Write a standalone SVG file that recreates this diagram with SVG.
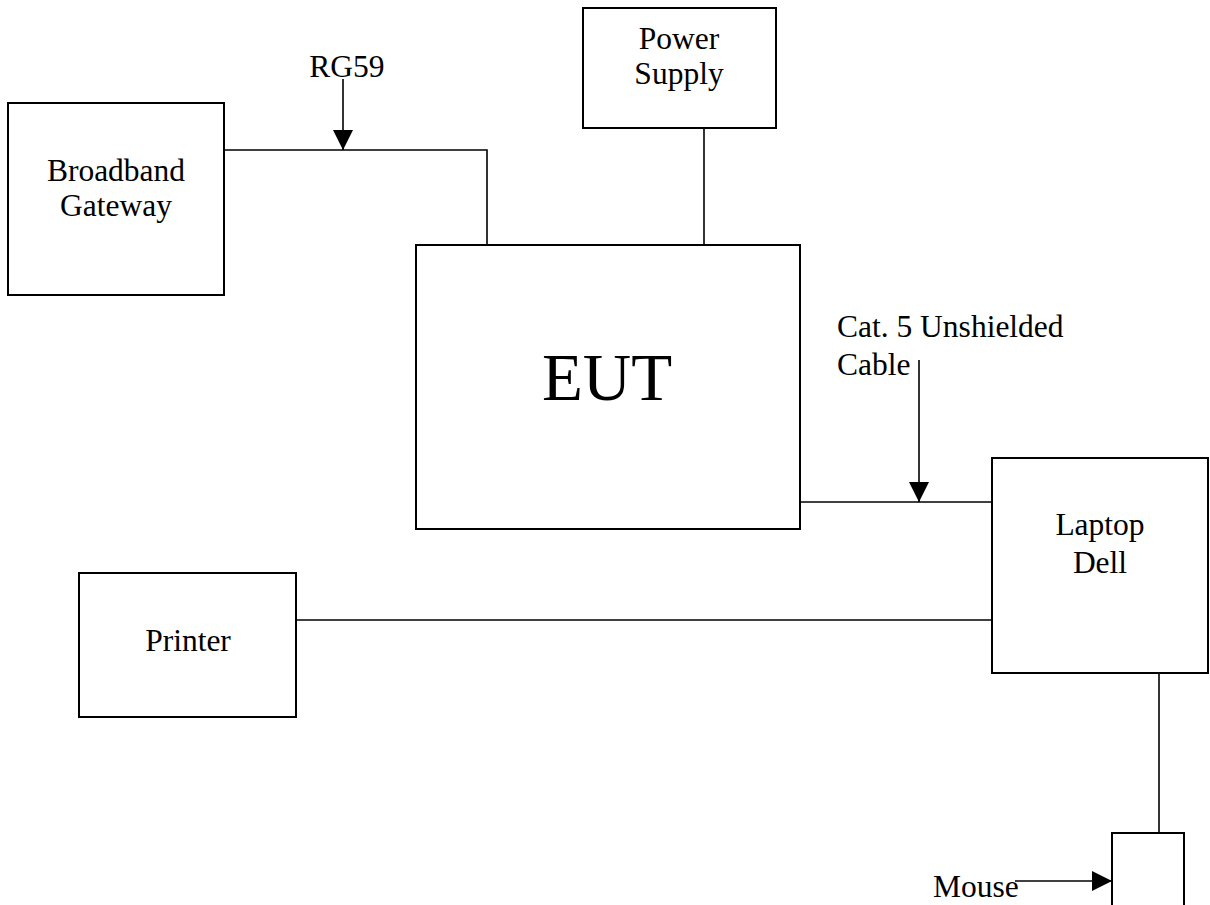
<svg xmlns="http://www.w3.org/2000/svg" width="1210" height="905" viewBox="0 0 1210 905">
<style>
  .box { fill: #ffffff; stroke: #000000; stroke-width: 2; }
  .wire { fill: none; stroke: #000000; stroke-width: 1.6; }
  .lbl { font-family: "Liberation Serif", "Times New Roman", serif; font-size: 31.5px; fill: #000000; }
  .mid { text-anchor: middle; }
  .big { font-family: "Liberation Serif", "Times New Roman", serif; font-size: 67px; fill: #000000; text-anchor: middle; }
</style>
<defs>
  <marker id="arr" viewBox="0 0 10 10" refX="10" refY="5" markerWidth="20" markerHeight="20" markerUnits="userSpaceOnUse" orient="auto">
    <path d="M0,0 L10,5 L0,10 Z" fill="#000000"/>
  </marker>
</defs>
<rect width="1210" height="905" fill="#ffffff"/>

<g id="connectors">
  <polyline class="wire" points="224,150 487,150 487,246"/>
  <line class="wire" x1="704" y1="127" x2="704" y2="246"/>
  <line class="wire" x1="800" y1="502" x2="992" y2="502"/>
  <line class="wire" x1="296" y1="620" x2="992" y2="620"/>
  <line class="wire" x1="1159" y1="667" x2="1159" y2="836"/>
  <line class="wire" x1="343" y1="79" x2="343" y2="150" marker-end="url(#arr)"/>
  <line class="wire" x1="919" y1="360" x2="919" y2="502" marker-end="url(#arr)"/>
  <line class="wire" x1="1015" y1="881" x2="1112" y2="881" marker-end="url(#arr)"/>
</g>

<g id="broadband-gateway">
  <rect class="box" x="8" y="103" width="216" height="192"/>
  <text class="lbl mid" x="116" y="181">Broadband</text>
  <text class="lbl mid" x="116" y="216">Gateway</text>
</g>

<g id="power-supply">
  <rect class="box" x="583" y="8" width="193" height="120"/>
  <text class="lbl mid" x="679" y="49">Power</text>
  <text class="lbl mid" x="679" y="84">Supply</text>
</g>

<g id="eut">
  <rect class="box" x="416" y="245" width="384" height="284"/>
  <text class="big" x="607" y="400">EUT</text>
</g>

<g id="laptop-dell">
  <rect class="box" x="992" y="458" width="216" height="215"/>
  <text class="lbl mid" x="1100" y="535">Laptop</text>
  <text class="lbl mid" x="1100" y="573">Dell</text>
</g>

<g id="printer">
  <rect class="box" x="79" y="573" width="217" height="144"/>
  <text class="lbl mid" x="188" y="651">Printer</text>
</g>

<g id="mouse">
  <rect class="box" x="1112" y="833" width="72" height="90"/>
</g>

<g id="labels">
  <text class="lbl mid" x="347" y="77">RG59</text>
  <text class="lbl" x="837" y="337">Cat. 5 Unshielded</text>
  <text class="lbl" x="837" y="375">Cable</text>
  <text class="lbl" x="933" y="897">Mouse</text>
</g>
</svg>
